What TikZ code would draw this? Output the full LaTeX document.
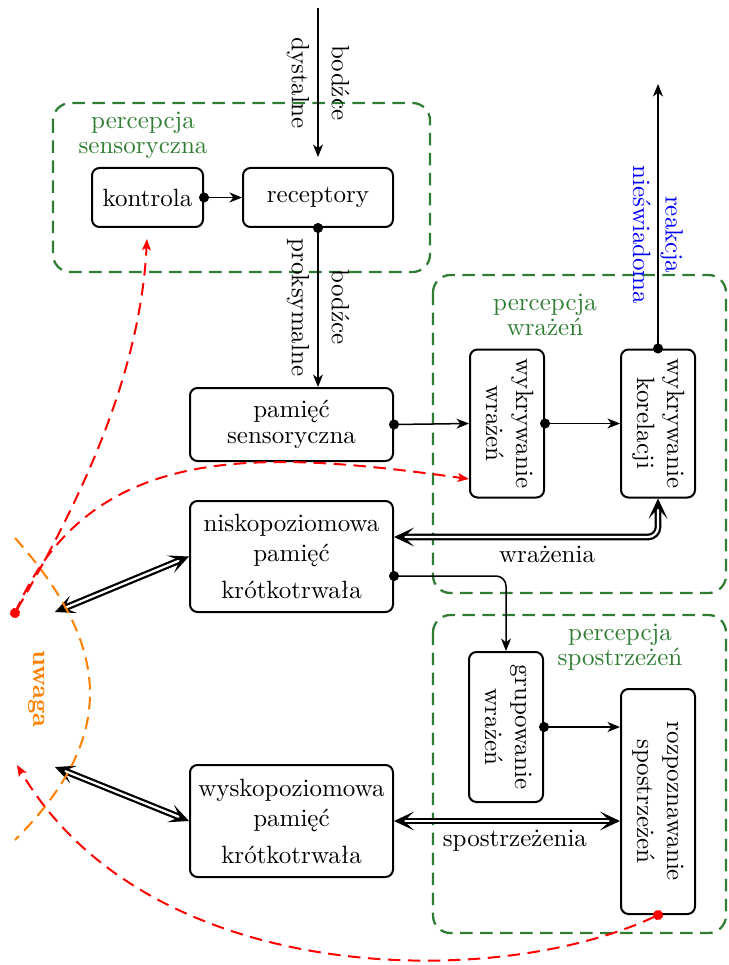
\documentclass[tikz,border=0pt]{standalone}
\usepackage{graphicx}
\usetikzlibrary{arrows.meta, calc}
\definecolor{gFrame}{HTML}{2E7D32}
\definecolor{oAttn}{HTML}{FF8000}
\newcommand{\vtext}[1]{\rotatebox{-90}{\begin{tabular}{@{}c@{}}#1\end{tabular}}}
\tikzset{
    Box/.style = {draw, thick, rounded corners=3pt, align=center, inner sep=2pt},
    VBox/.style = {Box, minimum width=29.6pt},
    Group/.style = {draw=gFrame, line width=0.9pt, dash pattern=on 5pt off 3pt, rounded corners=7pt},
    GroupLabel/.style = {text=gFrame, align=center},
    StackLabel/.style = {rotate=-90, align=center},
    Arrow/.style = {semithick, -{Stealth[length=5pt, width=4pt, inset=1.5pt]}},
    DotArrow/.style = {semithick, {Circle[length=4pt]}-{Stealth[length=5pt, width=4pt, inset=1.5pt]}, shorten <=-2pt},
    DoubleArrow/.style = {line width=0.9pt, double distance=0.9pt, double,
        {Stealth[length=8pt, width=7.5pt, inset=4pt]}-{Stealth[length=8pt, width=7.5pt, inset=4pt]}},
    AttnArrow/.style = {red, thick, dash pattern=on 5pt off 3pt, -{Stealth[length=4.5pt, width=3.5pt, inset=1pt]}},
    AttnDotArrow/.style = {AttnArrow, {Circle[length=4pt]}-{Stealth[length=4.5pt, width=3.5pt, inset=1pt]}, shorten <=-2pt}
}

\begin{document}
\begin{tikzpicture}[x=0.4pt, y=-0.4pt]
    \useasboundingbox (0,0) rectangle (728,965);
    % groups
    \draw [Group] (53,103) rectangle (430,272);
    \draw [Group] (433,275) rectangle (726,593);
    \draw [Group] (433,615) rectangle (726,933);
    \node [GroupLabel] (pSens) at (143,135) {percepcja\\[-2pt]sensoryczna};
    \node [GroupLabel] (pWraz) at (545,315) {percepcja\\[-2pt]wrażeń};
    \node [GroupLabel] (pSpos) at (620,647) {percepcja\\[-2pt]spostrzeżeń};
    % blocks
    \node [Box, minimum width=44.4pt, minimum height=23.6pt] (kontrola) at (147.5,197.5) {kontrola};
    \node [Box, minimum width=60pt, minimum height=23.6pt] (receptory) at (318,197.5) {receptory};
    \node [Box, minimum width=81.2pt, minimum height=29.2pt] (pamsens) at (291.5,424.5) {pamięć\\[-1.6pt]sensoryczna};
    \node [Box, minimum width=81.2pt, minimum height=44.4pt] (nisko) at (291.5,556.5) {niskopoziomowa\\pamięć\\[2.8pt]krótkotrwała};
    \node [Box, minimum width=81.2pt, minimum height=44.8pt] (wysko) at (291.5,821) {wyskopoziomowa\\pamięć\\[2.8pt]krótkotrwała};
    \node [VBox, minimum height=59.2pt] (wrazenia) at (507,423.5) {\vtext{wykrywanie\\wrażeń}};
    \node [VBox, minimum height=59.2pt] (korelacje) at (658,423.5) {\vtext{wykrywanie\\korelacji}};
    \node [VBox, minimum height=60pt] (grupowanie) at (506,727) {\vtext{grupowanie\\wrażeń}};
    \node [VBox, minimum height=90pt] (rozpoznanie) at (658,801.5) {\vtext{rozpoznawanie\\spostrzeżeń}};
    % free ends
    \coordinate (bodzceIn) at (318,8);
    \coordinate (reakcjaOut) at (658,84);
    \coordinate (uwagaN) at (55,612);
    \coordinate (uwagaW) at (55,767);
    \coordinate (uwagaDot) at (15,613);
    \coordinate (uwagaIn) at (17,765);
    % flow
    \draw [Arrow, shorten >=4pt] (bodzceIn) -- node[StackLabel, pos=0.47] {bodźce\\[4pt]dystalne} (receptory.north);
    \draw [DotArrow] (kontrola.east) -- (receptory.west);
    \draw [DotArrow] (receptory.south) -- node[StackLabel] {bodźce\\[4pt]proksymalne} (receptory.south |- pamsens.north);
    \draw [DotArrow] (pamsens.east) -- (wrazenia.west);
    \draw [DotArrow] (wrazenia.east) -- (korelacje.west);
    \draw [DotArrow] (korelacje.north) -- node[StackLabel, text=blue, pos=0.43] {reakcja\\[1pt]nieświadoma} (reakcjaOut);
    \draw [DotArrow, rounded corners=4pt] ([yshift=-7.8pt]nisko.east) -| (grupowanie.north);
    \draw [DotArrow] (grupowanie.east) -- (grupowanie.east -| rozpoznanie.west);
    \draw [DoubleArrow, rounded corners=4pt] (korelacje.south) |- node[below, pos=0.71] {wrażenia} ([yshift=7.8pt]nisko.east);
    \draw [DoubleArrow] (wysko.east) -- node[below, pos=0.535] {spostrzeżenia} (wysko.east -| rozpoznanie.west);
    \draw [DoubleArrow] (uwagaN) -- (nisko.west);
    \draw [DoubleArrow] (uwagaW) -- (wysko.west);
    % attention
    \draw [oAttn, thick, dash pattern=on 5pt off 3pt] (15,538) .. controls (115,650) and (115,740) .. (15,840);
    \node [text=oAttn, font=\bfseries, rotate=-90] (uwaga) at (37,689) {uwaga};
    \draw [AttnDotArrow, shorten >=4.4pt] (uwagaDot) .. controls (75,510) and (140,380) .. (kontrola.south);
    \draw [AttnArrow] (uwagaDot) .. controls (90,440) and (260,450) .. ([yshift=-22.2pt]wrazenia.west);
    \draw [AttnDotArrow] (rozpoznanie.south) .. controls (500,990) and (150,990) .. (uwagaIn);
\end{tikzpicture}
\end{document}
